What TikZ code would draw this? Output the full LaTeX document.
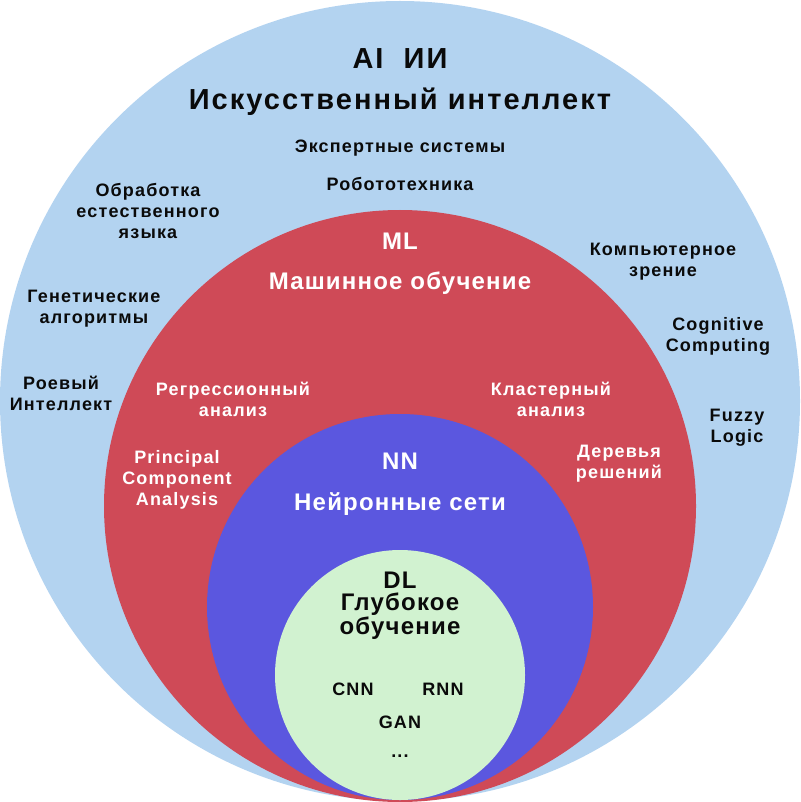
\documentclass[tikz,border=0pt]{standalone}
\usepackage{fontspec}
\setmainfont{Liberation Sans}
\definecolor{aiblue}{HTML}{B3D3F0}
\definecolor{mlred}{HTML}{CF4A57}
\definecolor{nnblue}{HTML}{5B57DF}
\definecolor{dlgreen}{HTML}{D1F2D0}
\definecolor{ink}{HTML}{0A0A0A}
\begin{document}
\begin{tikzpicture}[x=1pt,y=-1pt,
  disc/.style={circle,inner sep=0pt,outer sep=0pt},
  big/.style={font=\bfseries\fontsize{29}{32}\selectfont\addfontfeature{LetterSpace=7},text=ink,inner sep=0pt},
  mid/.style={font=\bfseries\fontsize{24}{28}\selectfont\addfontfeature{LetterSpace=5},inner sep=0pt},
  small/.style={font=\bfseries\fontsize{18}{21}\selectfont\addfontfeature{LetterSpace=6.5},align=center,inner sep=0pt},
  dark/.style={text=ink},
  light/.style={text=white}]
\useasboundingbox (0,0) rectangle (800,802);
\node[disc,fill=aiblue,minimum size=800pt] (ai) at (400,401) {};
\node[disc,fill=mlred,minimum size=592pt] (ml) at (400,506) {};
\node[disc,fill=nnblue,minimum size=386pt] (nn) at (400,607) {};
\node[disc,fill=dlgreen,minimum size=250pt] (dl) at (400,675) {};
% AI
\node[big] (aiabbr) at (400,59) {AI\ \ ИИ};
\node[big] (aititle) at (400,102) {Искусственный интеллект};
\node[small,dark] (expert) at (400,148) {Экспертные системы};
\node[small,dark] (robot) at (400,184) {Робототехника};
\node[small,dark] (nlp) at (148,211) {Обработка\\естественного\\языка};
\node[small,dark] (genetic) at (94,309) {Генетические\\алгоритмы};
\node[small,dark] (swarm) at (61,393) {Роевый\\Интеллект};
\node[small,dark] (cv) at (663,262) {Компьютерное\\зрение};
\node[small,dark] (cognitive) at (718,336) {Cognitive\\Computing};
\node[small,dark] (fuzzy) at (737,428) {Fuzzy\\Logic};
% ML
\node[mid,light] (mlabbr) at (400,241) {ML};
\node[mid,light] (mltitle) at (400,283) {Машинное обучение};
\node[small,light] (regr) at (233,399) {Регрессионный\\анализ};
\node[small,light] (clust) at (551,399) {Кластерный\\анализ};
\node[small,light] (pca) at (177,480) {Principal\\Component\\Analysis};
\node[small,light] (trees) at (619,464) {Деревья\\решений};
% NN
\node[mid,light] (nnabbr) at (400,461) {NN};
\node[mid,light] (nntitle) at (400,504) {Нейронные сети};
% DL
\node[font=\bfseries\fontsize{24}{22}\selectfont\addfontfeature{LetterSpace=5},align=center,inner sep=0pt,dark] (dltitle) at (400,606) {DL\\Глубокое\\обучение};
\node[small,dark] (cnn) at (353,689) {CNN};
\node[small,dark] (rnn) at (443,689) {RNN};
\node[small,dark] (gan) at (400,722) {GAN};
\node[small,dark] (more) at (400,756) {...};
\end{tikzpicture}
\end{document}
